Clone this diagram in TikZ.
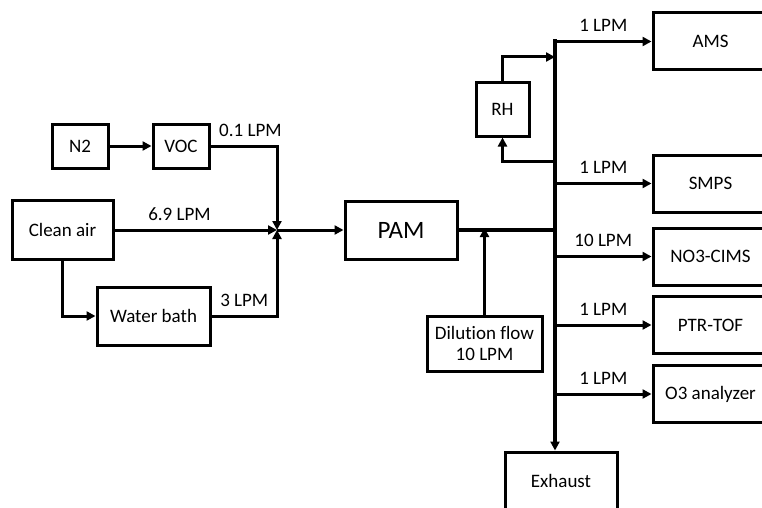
\documentclass[tikz,border=0pt]{standalone}
\usepackage{fontspec}
\setmainfont{Carlito}[Ligatures=NoCommon]
\usetikzlibrary{arrows.meta, calc}
\definecolor{boxline}{HTML}{000000}
\definecolor{flowline}{HTML}{000000}
\tikzset{
  unit/.style = {rectangle, draw=boxline, line width=3pt, fill=white,
                 align=center, font=\fontsize{19}{21.7}\selectfont, inner sep=2pt},
  flow/.style = {-{Triangle[length=9pt, width=9pt]}, line width=3pt, draw=flowline},
  bus/.style  = {line width=4pt, draw=flowline},
  lbl/.style  = {font=\fontsize{19}{21.7}\selectfont, above=5pt},
}
\begin{document}
\begin{tikzpicture}[x=1pt, y=-1pt]
    \clip (0,0) rectangle (762,508);
    \node[unit, minimum width=56pt,  minimum height=44pt] (n2)    at (80,146)    {N2};
    \node[unit, minimum width=56pt,  minimum height=44pt] (voc)   at (181,146)   {VOC};
    \node[unit, minimum width=101pt, minimum height=59pt] (clean) at (62.5,230)  {Clean air};
    \node[unit, minimum width=113pt, minimum height=58pt] (water) at (153.5,316) {Water bath};
    \node[unit, minimum width=112pt, minimum height=58pt,
          font=\fontsize{25}{28}\selectfont]              (pam)   at (401,230)   {PAM};
    \node[unit, minimum width=115pt, minimum height=55pt] (dil)   at (484.5,343.5) {Dilution flow\\10 LPM};
    \node[unit, minimum width=53pt,  minimum height=53pt] (rh)    at (502.5,109.5) {RH};
    \node[unit, minimum width=115pt, minimum height=57pt] (ams)   at (710.5,41.5)  {AMS};
    \node[unit, minimum width=115pt, minimum height=57pt] (smps)  at (710.5,183.5) {SMPS};
    \node[unit, minimum width=115pt, minimum height=57pt] (cims)  at (710.5,256.5) {NO3-CIMS};
    \node[unit, minimum width=115pt, minimum height=57pt] (ptr)   at (710.5,325)   {PTR-TOF};
    \node[unit, minimum width=115pt, minimum height=57pt] (o3)    at (710.5,394)   {O3 analyzer};
    \node[unit, minimum width=112pt, minimum height=58pt] (exh)   at (561,481)     {Exhaust};
    \coordinate (j)     at (277,230);
    \coordinate (top)   at (555,41.5);
    \coordinate (rhin)  at (555,161);
    \coordinate (rhout) at (555,57);
    \draw[flow] (n2) -- (voc);
    \draw[flow] (voc) -| (j) node[lbl, pos=0.3] {0.1 LPM};
    \draw[flow] (clean) -- (j) node[lbl, pos=0.4] {6.9 LPM};
    \draw[flow] (clean.south) |- (water.west);
    \draw[flow] (water) -| (j) node[lbl, pos=0.25] {3 LPM};
    \draw[flow] (j) -- (pam);
    \draw[bus] (pam.east) -- (pam.east -| top);
    \draw[flow] (dil.north) -- ([yshift=2pt]dil.north |- pam.east);
    \draw[bus, line cap=rect, -{Triangle[length=9pt, width=9pt]}] (top) -- (top |- exh.north);
    \draw[flow] (rhin) -| (rh);
    \draw[flow] (rh) |- (rhout);
    \foreach \n/\f in {ams/1, smps/1, cims/10, ptr/1, o3/1}{\draw[flow] (top |- \n.west) -- (\n.west) node[lbl, midway] {\f\ LPM};}
\end{tikzpicture}
\end{document}
